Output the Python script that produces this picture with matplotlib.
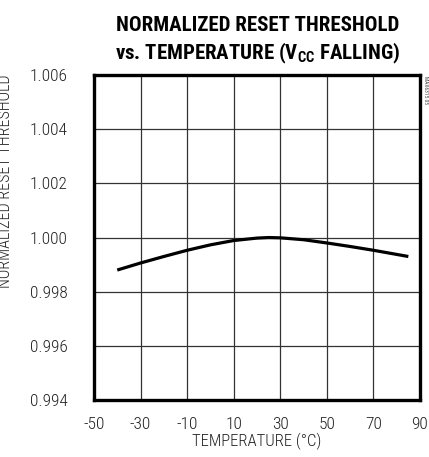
import matplotlib
matplotlib.use('Agg')
import matplotlib.pyplot as plt
from matplotlib import font_manager as fm

# data
temp = [-40, -30, -20, -10, 0, 10, 20, 25, 30, 40, 50, 60, 70, 85]
thresh = [0.99880, 0.99906, 0.99930, 0.99953, 0.99973, 0.99989, 0.99998, 1.00000,
          0.99999, 0.99992, 0.99980, 0.99967, 0.99953, 0.99930]
xticks = [-50, -30, -10, 10, 30, 50, 70, 90]
yticks = [0.994, 0.996, 0.998, 1.000, 1.002, 1.004, 1.006]

have = {f.name for f in fm.fontManager.ttflist}
def pick(*names):
    return [n for n in names if n in have] + ['DejaVu Sans']

NARROW = pick('Liberation Sans Narrow', 'Roboto Condensed', 'Archivo Narrow', 'PT Sans Narrow')
HEAVY = pick('Roboto Condensed', 'Archivo Narrow', 'Barlow Condensed')
plt.rcParams['font.family'] = NARROW
plt.rcParams['mathtext.fontset'] = 'custom'
plt.rcParams['mathtext.bf'] = f'{HEAVY[0]}:bold'

fig = plt.figure(figsize=(4.29, 4.57), dpi=100)
ax = fig.add_axes([0.219, 0.1247, 0.76, 0.711])

ax.plot(temp, thresh, color='black', lw=2.3, solid_capstyle='butt')
ax.set_xlim(-50, 90)
ax.set_ylim(0.994, 1.006)
ax.set_xticks(xticks)
ax.set_yticks(yticks)
ax.set_xticklabels([str(t) for t in xticks], fontsize=12.5, fontweight='light')
ax.set_yticklabels([f'{t:.3f}' for t in yticks], fontsize=12.5, fontweight='light')
ax.tick_params(axis='y', length=0, pad=19, colors='#222222')
ax.tick_params(axis='x', length=0, pad=12, colors='#222222')
ax.grid(True, color='#333333', lw=0.9)
for s in ax.spines.values():
    s.set_linewidth(2.4)

fig.text(0.5995, 0.034, 'TEMPERATURE (°C)', ha='center', va='center',
         fontsize=12, fontweight='light', color='#222222')
fig.text(0.012, 0.604, 'NORMALIZED RESET THRESHOLD', rotation=90,
         ha='center', va='center', fontsize=11.5, fontweight='light', color='#222222')

fig.text(0.6, 0.945, 'NORMALIZED RESET THRESHOLD', ha='center', va='center',
         fontsize=15, fontweight='heavy', family=HEAVY)
fig.text(0.6, 0.882, r'vs. TEMPERATURE (V$_{\mathbf{CC}}$ FALLING)', ha='center',
         va='center', fontsize=15, fontweight='heavy', family=HEAVY)
fig.text(0.993, 0.803, 'MAX6315 05', rotation=270, ha='center', va='center',
         fontsize=4, color='#444444')

fig.savefig('out.png', dpi=100)
